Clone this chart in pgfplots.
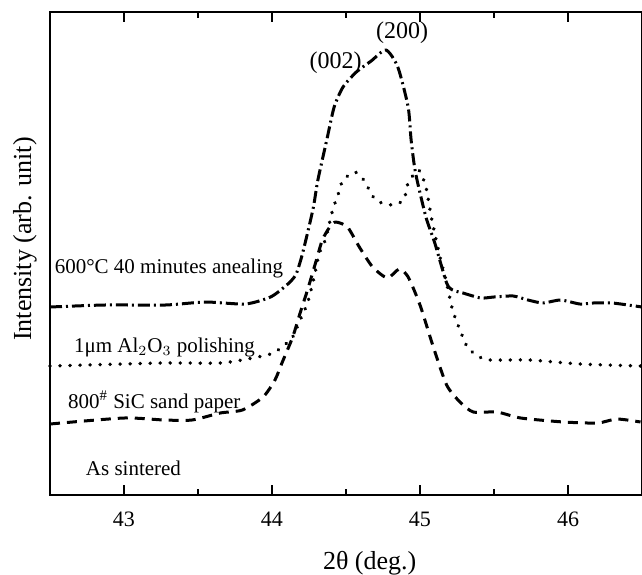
\documentclass[border=0pt]{standalone}
\usepackage{fontspec}
\setmainfont{Liberation Serif}
\usepackage{pgfplots}
\pgfplotsset{compat=1.18}
\begin{document}
\begin{tikzpicture}
\begin{axis}[
  scale only axis, width=296pt, height=241.5pt,
  xmin=42.5, xmax=46.5, ymin=0, ymax=483,
  xtick={43,44,45,46}, minor x tick num=1, ytick=\empty,
  tick align=inside, major tick length=5pt, minor tick length=3pt,
  tick style={black, line width=0.9pt},
  axis line style={line width=1pt},
  /pgf/number format/assume math mode=true,
  tick label style={font=\fontsize{11}{13}\selectfont},
  xticklabel style={yshift=-5pt},
  xlabel={2θ (deg.)}, ylabel={Intensity (arb. unit)},
  label style={font=\fontsize{13}{15}\selectfont},
  xlabel style={at={([yshift=-34pt]rel axis cs:0.54,0)}, anchor=center},
  ylabel style={at={([xshift=-12.5pt]rel axis cs:0,0.53)}, anchor=center},
  clip=false,
  every axis plot/.style={black, line width=1.5pt, smooth, tension=0.4, line join=round},
]
% 600 C 40 minutes annealing (dash-dot)
\addplot[dash pattern=on 6pt off 2pt on 1pt off 2pt] coordinates {
 (42.50,188) (42.87,190) (43.28,190) (43.55,193) (43.82,191) (43.99,198)
 (44.10,210) (44.16,220) (44.20,238) (44.24,262) (44.28,288) (44.31,315)
 (44.37,355) (44.42,388) (44.48,408) (44.57,423) (44.67,434) (44.77,445)
 (44.85,428) (44.92,388) (44.94,355) (44.97,322) (45.04,278) (45.10,252)
 (45.18,212) (45.22,205) (45.29,202) (45.41,197) (45.50,198) (45.63,199)
 (45.73,195) (45.83,192) (45.95,195) (46.08,191) (46.17,192) (46.30,192)
 (46.50,188)
};
% 1 um Al2O3 polishing (dotted)
\addplot[line cap=round, line width=1.9pt, dash pattern=on 0.01pt off 5pt] coordinates {
 (42.50,129) (43.26,132) (43.65,132) (43.87,137) (44.01,142) (44.10,152)
 (44.14,158) (44.19,175) (44.24,192) (44.28,215) (44.32,242) (44.36,255)
 (44.41,285) (44.45,302) (44.48,315) (44.56,323) (44.62,315) (44.70,295)
 (44.81,290) (44.89,295) (44.92,312) (44.99,325) (45.04,308) (45.08,275)
 (45.14,235) (45.18,212) (45.22,185) (45.27,165) (45.32,148) (45.39,139)
 (45.47,135) (45.74,135) (46.08,131) (46.49,129)
};
% 800# SiC sand paper (dashed)
\addplot[dash pattern=on 5pt off 3.5pt] coordinates {
 (42.50,71) (43.00,77) (43.27,75) (43.46,75) (43.65,82) (43.80,85)
 (43.94,98) (44.02,115) (44.07,133) (44.14,158) (44.19,182) (44.24,205)
 (44.30,235) (44.34,255) (44.39,268) (44.43,273) (44.51,268) (44.59,248)
 (44.68,228) (44.78,217) (44.86,226) (44.92,218) (45.00,190) (45.09,148)
 (45.18,110) (45.27,93) (45.36,83) (45.52,83) (45.68,77) (45.97,73)
 (46.20,72) (46.33,76) (46.49,73)
};
\node[font=\fontsize{12}{14}\selectfont] at (axis cs:44.88,462) {(200)};
\node[font=\fontsize{12}{14}\selectfont] at (axis cs:44.43,432) {(002)};
\begin{scope}[every node/.style={font=\fontsize{10.5}{12}\selectfont, anchor=west, inner sep=0pt}]
\node at (axis cs:42.53,227) {600°C 40 minutes anealing};
\node at (axis cs:42.66,148) {1μm Al$_2$O$_3$ polishing};
\node at (axis cs:42.62,93) {800$^{\#}$ SiC sand paper};
\node at (axis cs:42.74,27) {As sintered};
\end{scope}
\end{axis}
\pgfresetboundingbox
\path (-25pt,-39.5pt) rectangle (296pt,247.5pt);
\end{tikzpicture}
\end{document}
